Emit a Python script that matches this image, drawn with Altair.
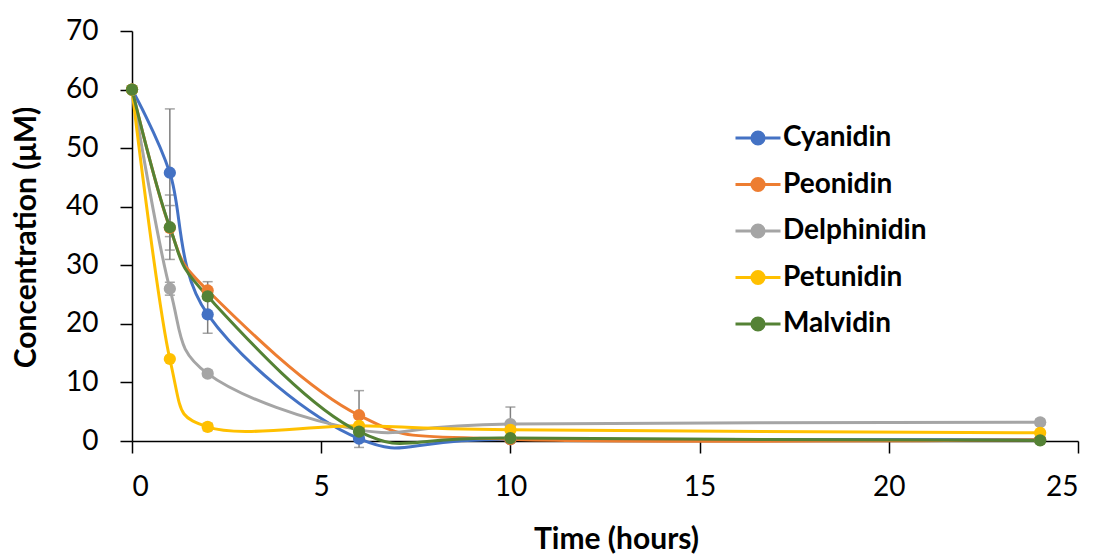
import altair as alt
import pandas as pd

times = [0, 1, 2, 6, 10, 24]
series_names = ["Cyanidin", "Peonidin", "Delphinidin", "Petunidin", "Malvidin"]
cyanidin = [60, 45.8, 21.6, 0.4, 0.3, 0.2]
peonidin = [60, 36.4, 25.7, 4.4, 0.3, 0.2]
delphinidin = [60, 26.0, 11.5, 1.9, 2.9, 3.2]
petunidin = [60, 14.0, 2.4, 2.6, 1.9, 1.4]
malvidin = [60, 36.5, 24.7, 1.6, 0.5, 0.1]
colors = ["#4472C4", "#ED7D31", "#A5A5A5", "#FFC000", "#548235"]

# error bars: (series, time, half-width)
err_series = ["Cyanidin", "Cyanidin", "Cyanidin", "Peonidin", "Peonidin", "Peonidin",
              "Delphinidin", "Delphinidin", "Delphinidin", "Delphinidin", "Petunidin", "Malvidin"]
err_times = [1, 2, 6, 1, 2, 6, 1, 2, 10, 24, 2, 1]
err_sd = [10.9, 3.2, 1.5, 3.8, 1.5, 4.2, 1.1, 0.5, 2.9, 0.5, 0.6, 5.5]

values = [cyanidin, peonidin, delphinidin, petunidin, malvidin]
rows = []
for name, vals in zip(series_names, values):
    for t, v in zip(times, vals):
        rows.append({"series": name, "t": t, "c": v})
df = pd.DataFrame(rows)

lookup = {(r["series"], r["t"]): r["c"] for r in rows}
erows = []
for s, t, e in zip(err_series, err_times, err_sd):
    m = lookup[(s, t)]
    erows.append({"series": s, "t": t, "lo": m - e, "hi": m + e})
edf = pd.DataFrame(erows)
cap_df = pd.concat([
    edf[["series", "t", "lo"]].rename(columns={"lo": "v"}),
    edf[["series", "t", "hi"]].rename(columns={"hi": "v"}),
])

FONT = "Lato"
axis_style = dict(grid=False, tickSize=12,
                  labelFont=FONT, labelFontSize=28, labelColor="black",
                  titleFont=FONT, titleFontSize=30, titleFontWeight="bold", titleColor="black",
                  domainColor="black", domainWidth=1.5, tickColor="black", tickWidth=1.5)

x_enc = alt.X("t:Q", scale=alt.Scale(domain=[0, 25], nice=False),
              axis=alt.Axis(title="Time (hours)", values=[0, 5, 10, 15, 20, 25],
                            labelPadding=20, titleX=484, titleY=107,
                            titleBaseline="alphabetic", titleAlign="center", **axis_style))
y_enc = alt.Y("c:Q", scale=alt.Scale(domain=[0, 70], nice=False),
              axis=alt.Axis(title="Concentration (\u03bcM)", values=list(range(0, 80, 10)),
                            labelPadding=22, titleX=-106, titleY=206,
                            titleBaseline="middle", titleAlign="center", **axis_style))

color_enc = alt.Color("series:N",
                      scale=alt.Scale(domain=series_names, range=colors),
                      legend=alt.Legend(title=None, orient="none", legendX=602, legendY=83,
                                        symbolType="M-1,0L-0.27,0M0.27,0L1,0M-0.27,0A0.27,0.27,0,1,1,0.27,0A0.27,0.27,0,1,1,-0.27,0Z",
                                        symbolSize=2025, symbolStrokeWidth=3,
                                        labelFont=FONT, labelFontSize=28, labelFontWeight="bold",
                                        labelColor="black", labelOffset=1, rowPadding=8.5,
                                        labelLimit=300))

rules = alt.Chart(edf).mark_rule(color="#7F7F7F", strokeWidth=1.5).encode(
    x="t:Q", y="lo:Q", y2="hi:Q")
caps = alt.Chart(cap_df).mark_tick(color="#7F7F7F", orient="horizontal", size=10,
                                   thickness=1.5).encode(x="t:Q", y="v:Q")
lines = alt.Chart(df).mark_line(interpolate="cardinal", strokeWidth=3).encode(
    x=x_enc, y=y_enc, color=color_enc, order="t:Q")
points = alt.Chart(df).mark_point(filled=True, size=150, opacity=1).encode(
    x="t:Q", y="c:Q", color=alt.Color("series:N", scale=alt.Scale(domain=series_names, range=colors)))

chart = alt.layer(rules, caps, lines, points).properties(
    width=946, height=410,
    background="white",
    autosize=alt.AutoSizeParams(type="none"),
    padding={"left": 132, "top": 31, "right": 18, "bottom": 113},
).configure_view(stroke=None)

chart.save("out.html", embed_options={"renderer": "svg", "actions": False})
